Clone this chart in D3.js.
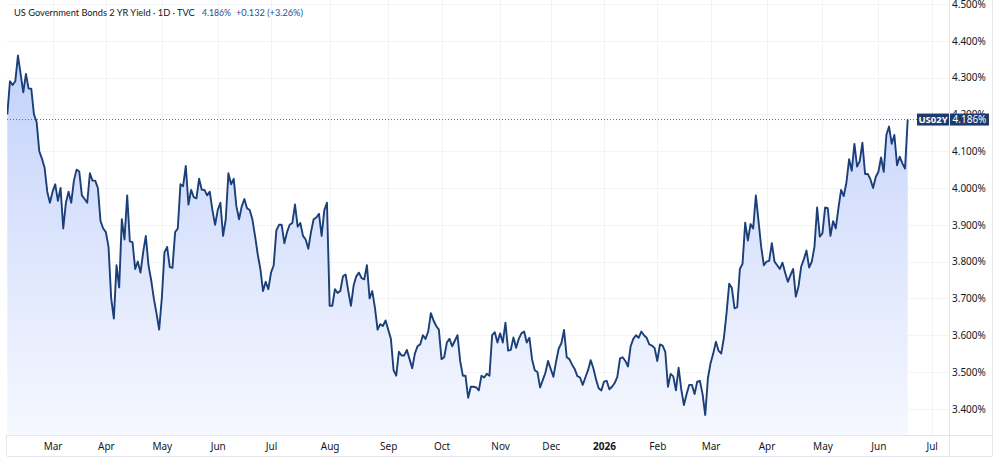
<!DOCTYPE html>
<html>
<head>
<meta charset="utf-8">
<script src="https://cdn.jsdelivr.net/npm/d3@7"></script>
<style>
  html, body { margin: 0; padding: 0; background: #fff; }
  svg { display: block; font-family: "Noto Sans", "DejaVu Sans", sans-serif; }
</style>
</head>
<body>
<script>
// daily closes, US 2Y yield (%), one value per trading day
const yields = [
  4.20, 4.29, 4.28, 4.29, 4.36, 4.31, 4.26, 4.31, 4.27, 4.27,
  4.20, 4.18, 4.10, 4.08, 4.055, 3.99, 3.96, 3.99, 4.01, 3.965,
  4.00, 3.89, 3.96, 3.99, 3.96, 4.02, 4.05, 4.045, 3.98, 3.97,
  3.96, 4.04, 4.02, 4.02, 4.00, 3.91, 3.89, 3.88, 3.84, 3.70,
  3.645, 3.79, 3.73, 3.915, 3.86, 3.98, 3.855, 3.853, 3.78, 3.80,
  3.77, 3.825, 3.87, 3.79, 3.75, 3.70, 3.66, 3.615, 3.70, 3.825,
  3.84, 3.785, 3.783, 3.88, 3.89, 4.01, 4.005, 4.06, 3.955, 3.995,
  3.975, 3.972, 4.025, 3.995, 3.995, 3.98, 3.99, 3.94, 3.90, 3.94,
  3.96, 3.87, 3.915, 4.04, 4.01, 4.025, 3.95, 3.915, 3.95, 3.97,
  3.945, 3.94, 3.915, 3.87, 3.82, 3.78, 3.72, 3.745, 3.725, 3.77,
  3.79, 3.885, 3.90, 3.90, 3.85, 3.88, 3.90, 3.905, 3.955, 3.895,
  3.905, 3.87, 3.86, 3.835, 3.88, 3.915, 3.92, 3.93, 3.87, 3.94,
  3.96, 3.68, 3.68, 3.725, 3.715, 3.72, 3.76, 3.765, 3.72, 3.68,
  3.735, 3.76, 3.77, 3.755, 3.752, 3.79, 3.70, 3.72, 3.675, 3.615,
  3.63, 3.625, 3.64, 3.615, 3.59, 3.505, 3.49, 3.555, 3.545, 3.545,
  3.56, 3.535, 3.51, 3.55, 3.57, 3.575, 3.60, 3.59, 3.61, 3.66,
  3.64, 3.625, 3.615, 3.535, 3.54, 3.58, 3.59, 3.57, 3.585, 3.60,
  3.53, 3.49, 3.49, 3.43, 3.46, 3.46, 3.458, 3.45, 3.49, 3.485,
  3.495, 3.49, 3.60, 3.608, 3.58, 3.605, 3.58, 3.634, 3.558, 3.56,
  3.594, 3.566, 3.59, 3.605, 3.61, 3.58, 3.593, 3.534, 3.505, 3.50,
  3.458, 3.478, 3.498, 3.53, 3.508, 3.487, 3.528, 3.564, 3.578, 3.614,
  3.54, 3.535, 3.52, 3.508, 3.489, 3.485, 3.465, 3.485, 3.505, 3.532,
  3.51, 3.48, 3.456, 3.45, 3.474, 3.476, 3.453, 3.46, 3.47, 3.487,
  3.537, 3.54, 3.53, 3.515, 3.57, 3.59, 3.60, 3.593, 3.61, 3.60,
  3.593, 3.575, 3.572, 3.565, 3.53, 3.575, 3.572, 3.555, 3.46, 3.495,
  3.488, 3.45, 3.512, 3.453, 3.41, 3.44, 3.465, 3.465, 3.44, 3.474,
  3.476, 3.44, 3.383, 3.483, 3.524, 3.55, 3.582, 3.558, 3.55, 3.593,
  3.66, 3.74, 3.728, 3.673, 3.676, 3.78, 3.794, 3.906, 3.857, 3.902,
  3.89, 3.98, 3.91, 3.84, 3.79, 3.80, 3.802, 3.85, 3.80, 3.79,
  3.78, 3.797, 3.77, 3.745, 3.763, 3.78, 3.705, 3.732, 3.786, 3.806,
  3.83, 3.784, 3.80, 3.84, 3.947, 3.868, 3.877, 3.947, 3.945, 3.87,
  3.91, 3.89, 3.945, 3.995, 3.978, 4.015, 4.078, 4.047, 4.12, 4.058,
  4.073, 4.123, 4.038, 4.038, 4.024, 4.00, 4.03, 4.044, 4.083, 4.044,
  4.144, 4.167, 4.12, 4.144, 4.062, 4.085, 4.067, 4.053, 4.186
]

// month labels and the bar index they sit on
const monthLabels = ["Mar", "Apr", "May", "Jun", "Jul", "Aug", "Sep", "Oct", "Nov", "Dec", "2026", "Feb", "Mar", "Apr", "May", "Jun", "Jul"]
const monthIdx = [17, 37, 58, 79, 99, 121, 143, 163, 185, 204, 224, 244, 264, 285, 306, 327, 347]

const priceTicks = [3.4, 3.5, 3.6, 3.7, 3.8, 3.9, 4.0, 4.1, 4.2, 4.3, 4.4, 4.5]

const lastValue = 4.186
const change = "+0.132 (+3.26%)"
const title = "US Government Bonds 2 YR Yield · 1D · TVC"
const symbol = "US02Y"

const W = 1000, H = 465
const plot = {left: 7, right: 949, top: 0, bottom: 435}
const axisRight = 992, axisBottom = 456
const lineColor = '#1b3f78'
const tagColor = '#1d3b6e'
const gridColor = '#f2f3f6'
const borderColor = '#e4e6ec'

const x = d3.scaleLinear().domain([0, yields.length - 1]).range([7.3, 907.7])
const y = d3.scaleLinear().domain([3.4, 4.5]).range([408.8, 4])

const svg = d3.select('body').append('svg')
  .attr('width', W)
  .attr('height', H)

const defs = svg.append('defs')
const grad = defs.append('linearGradient')
  .attr('id', 'fillGrad')
  .attr('gradientUnits', 'userSpaceOnUse')
  .attr('x1', 0).attr('x2', 0)
  .attr('y1', y(d3.max(yields))).attr('y2', plot.bottom)
grad.append('stop').attr('offset', '0%').attr('stop-color', '#c3d2fb')
grad.append('stop').attr('offset', '100%').attr('stop-color', '#f6f8ff')

defs.append('clipPath').attr('id', 'plotClip')
  .append('rect')
  .attr('x', plot.left).attr('y', plot.top)
  .attr('width', plot.right - plot.left).attr('height', plot.bottom - plot.top)

// grid
const grid = svg.append('g')
grid.selectAll('line.h')
  .data(priceTicks)
  .enter().append('line')
  .attr('x1', plot.left).attr('x2', plot.right)
  .attr('y1', d => Math.round(y(d)) + 0.5).attr('y2', d => Math.round(y(d)) + 0.5)
  .attr('stroke', gridColor)
grid.selectAll('line.v')
  .data(monthIdx)
  .enter().append('line')
  .attr('x1', d => Math.round(x(d)) + 0.5).attr('x2', d => Math.round(x(d)) + 0.5)
  .attr('y1', plot.top).attr('y2', plot.bottom)
  .attr('stroke', gridColor)

const g = svg.append('g').attr('clip-path', 'url(#plotClip)')

const area = d3.area()
  .x((d, i) => x(i))
  .y0(plot.bottom)
  .y1(d => y(d))
g.append('path')
  .datum(yields)
  .attr('d', area)
  .attr('fill', 'url(#fillGrad)')

// last value dotted line
g.append('line')
  .attr('x1', plot.left).attr('x2', plot.right)
  .attr('y1', y(lastValue)).attr('y2', y(lastValue))
  .attr('stroke', '#4a6bb5')
  .attr('stroke-width', 1)
  .attr('stroke-dasharray', '1,2')

const line = d3.line()
  .x((d, i) => x(i))
  .y(d => y(d))
g.append('path')
  .datum(yields)
  .attr('d', line)
  .attr('fill', 'none')
  .attr('stroke', lineColor)
  .attr('stroke-width', 1.9)
  .attr('stroke-linejoin', 'round')

// borders of the panes
const b = svg.append('g').attr('stroke', borderColor).attr('fill', 'none')
b.append('line').attr('x1', plot.right + 0.5).attr('x2', plot.right + 0.5).attr('y1', 0).attr('y2', axisBottom)
b.append('line').attr('x1', axisRight + 0.5).attr('x2', axisRight + 0.5).attr('y1', 0).attr('y2', axisBottom)
b.append('line').attr('x1', plot.left).attr('x2', axisRight).attr('y1', plot.bottom + 0.5).attr('y2', plot.bottom + 0.5)
b.append('line').attr('x1', plot.left).attr('x2', axisRight).attr('y1', axisBottom + 0.5).attr('y2', axisBottom + 0.5)
b.append('line').attr('x1', plot.left - 0.5).attr('x2', plot.left - 0.5).attr('y1', plot.bottom).attr('y2', axisBottom)

// right price axis
const yAxis = d3.axisRight(y)
  .tickValues(priceTicks)
  .tickSize(0)
  .tickPadding(0)
  .tickFormat(d => d.toFixed(3) + '%')
const gy = svg.append('g')
  .attr('transform', `translate(${plot.right + 3}, 0)`)
  .call(yAxis)
gy.select('.domain').remove()
gy.selectAll('text')
  .attr('fill', '#131722')
  .style('font-size', '10px')
  .style('font-family', '"Noto Sans", sans-serif')

// bottom time axis
const xAxis = d3.axisBottom(x)
  .tickValues(monthIdx)
  .tickSize(0)
  .tickPadding(0)
  .tickFormat((d, i) => monthLabels[i])
const gx = svg.append('g')
  .attr('transform', `translate(0, ${plot.bottom + 8})`)
  .call(xAxis)
gx.select('.domain').remove()
gx.selectAll('text')
  .attr('fill', '#131722')
  .style('font-size', '10px')
  .style('font-family', '"Noto Sans", sans-serif')
  .style('font-weight', (d, i) => monthLabels[i] === '2026' ? 'bold' : 'normal')

// price tag for last value
const tagY = y(lastValue)
const tag = svg.append('g')
tag.append('rect')
  .attr('x', 917).attr('y', tagY - 6)
  .attr('width', 32).attr('height', 12)
  .attr('fill', tagColor)
tag.append('rect')
  .attr('x', 950).attr('y', tagY - 6)
  .attr('width', 39).attr('height', 12)
  .attr('fill', tagColor)
tag.append('text')
  .attr('x', 933).attr('y', tagY + 3.5)
  .attr('text-anchor', 'middle')
  .attr('fill', '#fff')
  .style('font-size', '9.5px')
  .style('font-weight', 'bold')
  .text(symbol)
tag.append('text')
  .attr('x', 969.5).attr('y', tagY + 3.5)
  .attr('text-anchor', 'middle')
  .attr('fill', '#fff')
  .style('font-size', '10px')
  .text(lastValue.toFixed(3) + '%')

// legend / title: narrow font, sized so each piece fits the width it has in the reference
const legendFont = 'Lato, "Noto Sans", sans-serif'
const fitText = (txt, xPos, maxW, color) => {
  const t = svg.append('text')
    .attr('x', xPos).attr('y', 15.5)
    .attr('fill', color)
    .style('font-family', legendFont)
    .style('font-size', '11px')
    .text(txt)
  const w = t.node().getComputedTextLength()
  if (w > maxW) t.style('font-size', (11 * maxW / w).toFixed(2) + 'px')
  return t
}
fitText(title, 14, 181, '#131722')
fitText(lastValue.toFixed(3) + '%', 202, 29, '#2a4f92')
fitText(change, 236, 67, '#2a4f92')
</script>
</body>
</html>
